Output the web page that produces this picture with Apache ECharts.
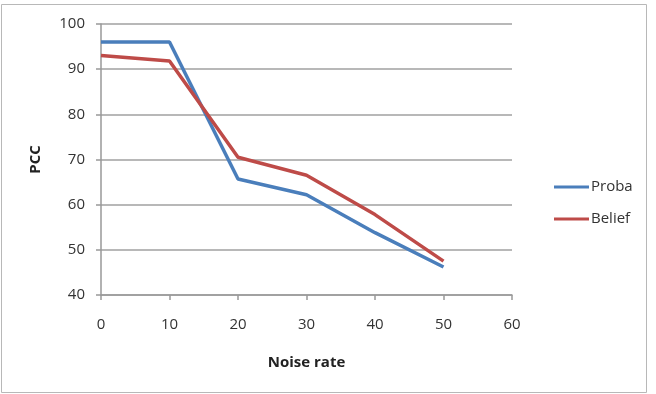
<!DOCTYPE html>
<html>
<head>
<meta charset="utf-8">
<script src="https://cdn.jsdelivr.net/npm/echarts@6/dist/echarts.min.js"></script>
<style>
  html, body { margin: 0; padding: 0; background: #fff; }
  #main { width: 656px; height: 394px; }
</style>
</head>
<body>
<div id="main"></div>
<script>
// noise rate on x
const noiseRate = [0, 10, 20, 30, 40, 50];
// PCC values
const proba = [96, 96, 65.7, 62.2, 53.8, 46.2];
const belief = [93, 91.8, 70.5, 66.5, 57.8, 47.5];

const chart = echarts.init(document.getElementById('main'));

const font = 'Open Sans';
const pairs = (ys) => noiseRate.map((x, i) => [x, ys[i]]);

const option = {
  backgroundColor: '#fff',
  animation: false,
  textStyle: { fontFamily: font },
  graphic: [{
    type: 'rect',
    shape: { x: 1.5, y: 4.5, width: 645, height: 388 },
    style: { fill: 'none', stroke: '#b8b8b8', lineWidth: 1 },
    silent: true
  }],
  grid: { left: 101, right: 144, top: 24, bottom: 99 },
  legend: {
    orient: 'vertical',
    left: 549,
    top: 174,
    icon: 'rect',
    itemWidth: 35,
    itemHeight: 3,
    itemGap: 16,
    textStyle: { fontFamily: font, fontSize: 15, color: '#333', lineHeight: 16, padding: [0, 0, 0, -3] },
    data: ['Proba', 'Belief']
  },
  xAxis: {
    type: 'value',
    min: 0, max: 60, interval: 10,
    name: 'Noise rate',
    nameLocation: 'middle',
    nameGap: 60,
    nameTextStyle: { fontFamily: font, fontSize: 15, fontWeight: 'bold', color: '#222' },
    axisLine: { lineStyle: { color: '#999', width: 1.5 } },
    axisTick: { show: true, length: 5, lineStyle: { color: '#999', width: 1.5 } },
    axisLabel: { margin: 22, fontFamily: font, fontSize: 15, color: '#333' },
    splitLine: { show: false }
  },
  yAxis: {
    type: 'value',
    min: 40, max: 100, interval: 10,
    name: 'PCC',
    nameLocation: 'middle',
    nameRotate: 90,
    nameGap: 58,
    nameTextStyle: { fontFamily: font, fontSize: 15, fontWeight: 'bold', color: '#222' },
    axisLine: { show: true, lineStyle: { color: '#999', width: 1.5 } },
    axisTick: { show: true, length: 5, lineStyle: { color: '#999', width: 1.5 } },
    axisLabel: { margin: 16, fontFamily: font, fontSize: 15, color: '#333' },
    splitLine: { show: true, lineStyle: { color: '#a0a0a0', width: 1.5 } }
  },
  series: [
    {
      name: 'Proba',
      type: 'line',
      data: pairs(proba),
      showSymbol: false,
      symbol: 'none',
      lineStyle: { color: '#4a7ebb', width: 3.5 },
      itemStyle: { color: '#4a7ebb' }
    },
    {
      name: 'Belief',
      type: 'line',
      data: pairs(belief),
      showSymbol: false,
      symbol: 'none',
      lineStyle: { color: '#be4b48', width: 3.5 },
      itemStyle: { color: '#be4b48' }
    }
  ]
};

chart.setOption(option);
</script>
</body>
</html>
